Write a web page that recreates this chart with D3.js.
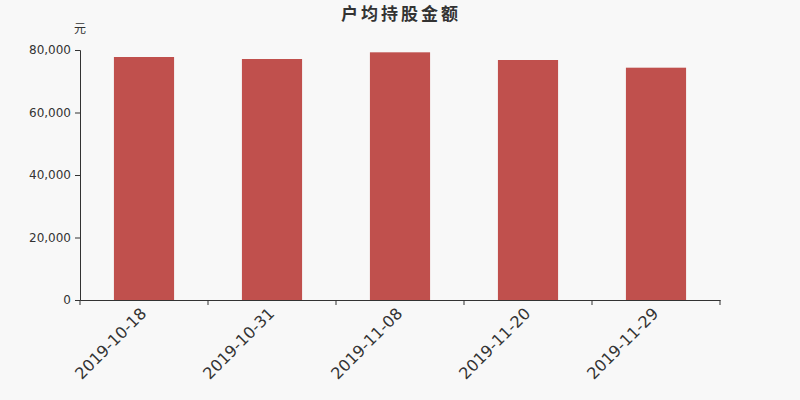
<!DOCTYPE html>
<html><head><meta charset="utf-8">
<script src="https://cdn.jsdelivr.net/npm/d3@7"></script>
<style>body{margin:0;background:#f8f8f8;}svg{display:block;font-family:"DejaVu Sans","Noto Sans CJK SC",sans-serif;}</style>
</head><body>
<svg id="c" width="800" height="400"></svg>
<script>
const categories = ["2019-10-18","2019-10-31","2019-11-08","2019-11-20","2019-11-29"];
const values = [77760, 77120, 79260, 76800, 74340];
const yTicks = [0, 20000, 40000, 60000, 80000];

const svg = d3.select("#c");
svg.append("rect").attr("width",800).attr("height",400).attr("fill","#f8f8f8");
const m = {l:80, r:720, t:50, b:300};
const x = d3.scaleBand().domain(categories).range([m.l, m.r]).padding(0);
const y = d3.scaleLinear().domain([0, 80000]).range([m.b, m.t]);
const bw = x.bandwidth() * 0.47;

svg.append("g").selectAll("rect").data(values).join("rect")
  .attr("x",(d,i)=>x(categories[i]) + x.bandwidth()/2 - bw/2)
  .attr("y",d=>y(d)).attr("width",bw).attr("height",d=>y(0)-y(d))
  .attr("fill","#c0504d");

const ya = svg.append("g").attr("transform",`translate(${m.l},0)`)
  .call(d3.axisLeft(y).tickValues(yTicks).tickFormat(d3.format(",")).tickSize(5).tickPadding(4));
ya.selectAll("text").attr("font-size",12).attr("fill","#333").attr("font-family","DejaVu Sans");
ya.selectAll("line,path").attr("stroke","#333");

const xa = svg.append("g").attr("transform",`translate(0,${m.b})`)
  .call(d3.axisBottom(x).tickValues([]).tickSizeOuter(0));
xa.select("path").attr("stroke","#333");
const bounds = categories.map(c=>x(c)).concat([m.r]);
xa.selectAll("line.b").data(bounds).join("line").attr("class","b")
  .attr("x1",d=>d).attr("x2",d=>d).attr("y1",0).attr("y2",5).attr("stroke","#333");
xa.selectAll("text.l").data(categories).join("text").attr("class","l")
  .attr("transform",d=>`translate(${x(d)+x.bandwidth()/2-5},${6}) rotate(-45)`)
  .attr("text-anchor","end").attr("dy","0.75em")
  .attr("font-size",16).attr("fill","#333").attr("font-family","DejaVu Sans").text(d=>d);

svg.append("text").attr("x",401).attr("y",20).attr("text-anchor","middle")
  .attr("font-size",17).attr("font-weight","bold").attr("fill","#333").attr("letter-spacing",3)
  .attr("font-family","Noto Sans CJK SC").text("户均持股金额");
svg.append("text").attr("x",80).attr("y",33).attr("text-anchor","middle")
  .attr("font-size",12).attr("fill","#333").attr("font-family","Noto Sans CJK SC").text("元");
</script>
</body></html>
